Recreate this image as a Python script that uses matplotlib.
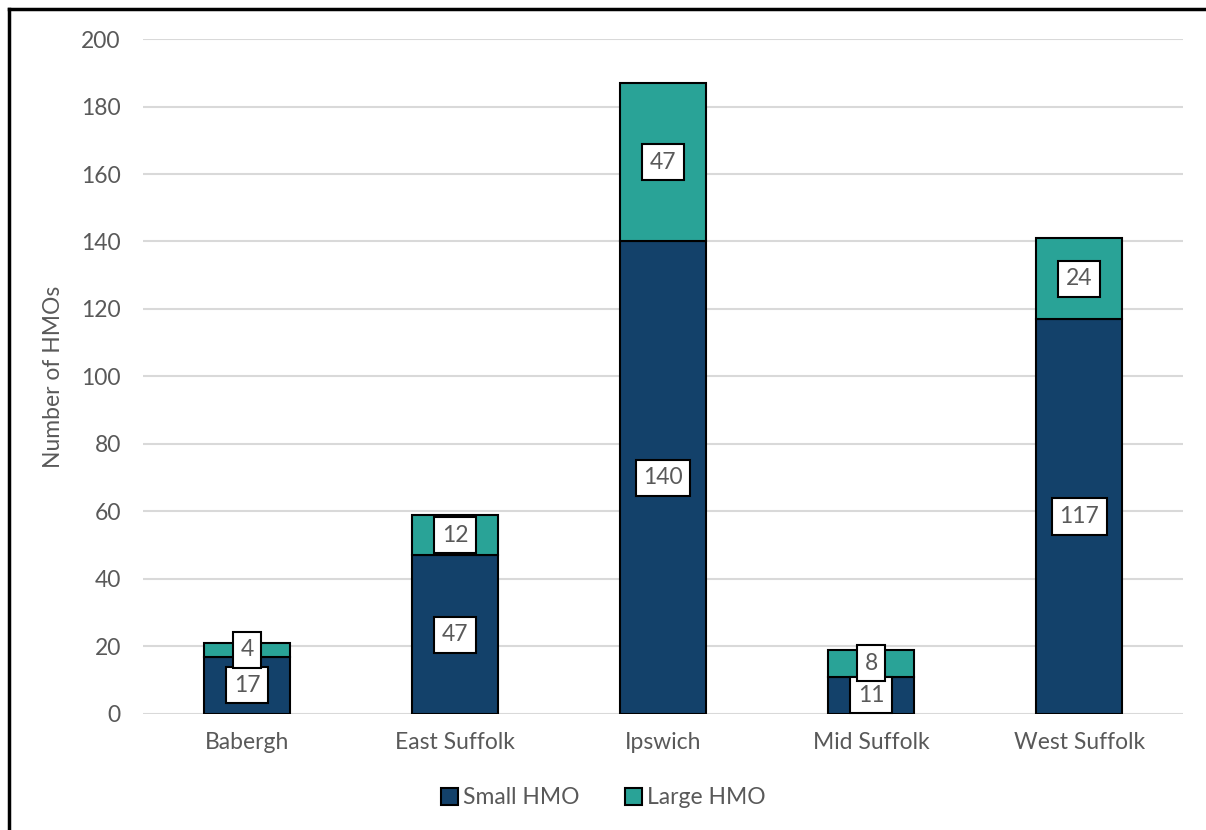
import matplotlib.pyplot as plt
from matplotlib.lines import Line2D

districts = ["Babergh", "East Suffolk", "Ipswich", "Mid Suffolk", "West Suffolk"]
small_hmo = [17, 47, 140, 11, 117]
large_hmo = [4, 12, 47, 8, 24]

navy = "#13416a"
teal = "#29a397"
grey = "#595959"
fs = 16.5

plt.rcParams['font.family'] = ['Lato', 'DejaVu Sans']

fig = plt.figure(figsize=(12.06, 8.3), dpi=100)
ax = fig.add_axes([0.1186, 0.1398, 0.8624, 0.8132])

x = range(len(districts))
w = 0.41
bars_small = ax.bar(x, small_hmo, w, color=navy, edgecolor="black", linewidth=1.5,
                    label="Small HMO", zorder=3)
bars_large = ax.bar(x, large_hmo, w, bottom=small_hmo, color=teal, edgecolor="black",
                    linewidth=1.5, label="Large HMO", zorder=3)

box = dict(boxstyle="square,pad=0.33", facecolor="white", edgecolor="black", linewidth=1.5)
for i in x:
    ax.text(i, small_hmo[i] / 2, str(small_hmo[i]), ha="center", va="center",
            fontsize=fs, color=grey, bbox=box, zorder=5)
    ax.text(i, small_hmo[i] + large_hmo[i] / 2, str(large_hmo[i]), ha="center",
            va="center", fontsize=fs, color=grey, bbox=box, zorder=6)

ax.set_ylim(0, 200)
ax.set_xlim(-0.5, 4.5)
ax.set_yticks(range(0, 201, 20))
ax.yaxis.grid(True, color="#d9d9d9", linewidth=1.5, zorder=0)
ax.set_axisbelow(True)
for s in ax.spines.values():
    s.set_visible(False)
ax.tick_params(length=0, labelsize=fs, colors=grey)
ax.tick_params(axis="x", pad=13)
ax.tick_params(axis="y", pad=16)
ax.set_xticks(list(x))
ax.set_xticklabels(districts)
ax.set_ylabel("Number of HMOs", fontsize=fs, color=grey, labelpad=12)

fig.legend(handles=[bars_small, bars_large], loc="center", bbox_to_anchor=(0.5, 0.039),
           ncol=2, frameon=False, fontsize=fs, labelcolor=grey, handlelength=0.75,
           handleheight=0.75, handletextpad=0.2, columnspacing=2.0)

# chart frame: top and left edges
top = 1 - 9.5 / 830
left = 8.5 / 1206
fig.lines.append(Line2D([left, 1.0], [top, top], transform=fig.transFigure,
                        color="black", linewidth=2.5))
fig.lines.append(Line2D([left, left], [0.0, top], transform=fig.transFigure,
                        color="black", linewidth=2.5))

fig.savefig("out.png", dpi=100)
